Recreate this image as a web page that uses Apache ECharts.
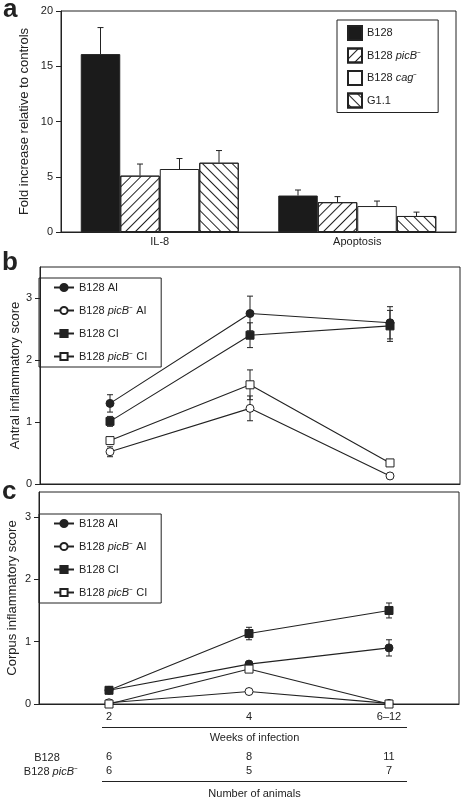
<!DOCTYPE html>
<html><head><meta charset="utf-8">
<script src="https://cdn.jsdelivr.net/npm/echarts@6/dist/echarts.min.js"></script>
<style>html,body{margin:0;padding:0;background:#fff}#c{width:466px;height:802px}</style>
</head><body><div id="c"></div>
<script>
// ---------- data ----------
const barCategories = ['IL-8', 'Apoptosis'];
const barNames = ['B128', 'B128 picB⁻', 'B128 cag⁻', 'G1.1'];
const barB128 = [16.1, 3.3];
const barB128Err = [2.4, 0.5];
const barPicB = [5.1, 2.7];
const barPicBErr = [1.05, 0.5];
const barCag = [5.7, 2.35];
const barCagErr = [0.95, 0.45];
const barG11 = [6.27, 1.45];
const barG11Err = [1.1, 0.35];
const barTicks = [0, 5, 10, 15, 20];

const weeks = ['2', '4', '6–12'];
const lineNames = ['B128 AI', 'B128 picB⁻ AI', 'B128 CI', 'B128 picB⁻ CI'];
// panel b: antral
const antralB128AI = [1.30, 2.75, 2.60];
const antralB128AIErr = [0.14, 0.28, 0.26];
const antralPicBAI = [0.52, 1.22, 0.13];
const antralPicBAIErr = [0.08, 0.20, 0.03];
const antralB128CI = [1.01, 2.40, 2.55];
const antralB128CIErr = [0.08, 0.20, 0.25];
const antralPicBCI = [0.70, 1.60, 0.34];
const antralPicBCIErr = [0.05, 0.24, 0.04];
// panel c: corpus
const corpusB128AI = [0.22, 0.64, 0.90];
const corpusB128AIErr = [0.02, 0.04, 0.13];
const corpusPicBAI = [0.02, 0.20, 0.01];
const corpusPicBAIErr = [0.01, 0.04, 0.01];
const corpusB128CI = [0.22, 1.13, 1.50];
const corpusB128CIErr = [0.03, 0.10, 0.12];
const corpusPicBCI = [0.00, 0.56, 0.00];
const corpusPicBCIErr = [0.00, 0.05, 0.00];
// number of animals
const animalsB128 = [6, 8, 11];
const animalsPicB = [6, 5, 7];

// ---------- styling ----------
const FONT = 'Liberation Sans, Arial, Helvetica, sans-serif';
const INK = '#222';
const BAR_GAP = 0.2;

function richName(name) {
  return name.replace(/(picB|cag)/, '{i|$1}').replace(/^([^{]*)\{/, '{n|$1}{').replace(/\}([^{}]+)$/, '}{n|$1}');
}
const richStyles = {
  n: { fontFamily: FONT, fontSize: 11, color: INK },
  i: { fontFamily: FONT, fontSize: 11, color: INK, fontStyle: 'italic' }
};

const barValues = [barB128, barPicB, barCag, barG11];
const barErrs = [barB128Err, barPicBErr, barCagErr, barG11Err];
const barStyles = [
  { color: '#1b1b1b', borderColor: INK, borderWidth: 1 },
  { color: '#fff', borderColor: INK, borderWidth: 1,
    decal: { symbol: 'rect', symbolSize: 1, dashArrayX: [1, 0], dashArrayY: [1, 5.5], rotation: -Math.PI / 4, color: INK, backgroundColor: 'rgba(0,0,0,0)' } },
  { color: '#fff', borderColor: INK, borderWidth: 1 },
  { color: '#fff', borderColor: INK, borderWidth: 1,
    decal: { symbol: 'rect', symbolSize: 1, dashArrayX: [1, 0], dashArrayY: [1, 5.5], rotation: Math.PI / 4, color: INK, backgroundColor: 'rgba(0,0,0,0)' } }
];

function barErrRender(k) {
  return function (params, api) {
    const ci = api.value(0), v = api.value(1), e = api.value(2);
    const band = api.size([1, 0])[0];
    const group = band * (1 - BAR_GAP);
    const bw = group / 4;
    const off = -group / 2 + bw * (k + 0.5);
    const p0 = api.coord([ci, v]);
    const p1 = api.coord([ci, v + e]);
    const x = p0[0] + off;
    const st = { stroke: INK, lineWidth: 1 };
    return { type: 'group', children: [
      { type: 'line', shape: { x1: x, y1: p0[1], x2: x, y2: p1[1] }, style: st },
      { type: 'line', shape: { x1: x - 3, y1: p1[1], x2: x + 3, y2: p1[1] }, style: st }
    ] };
  };
}
function lineErrRender(params, api) {
  const ci = api.value(0), v = api.value(1), e = api.value(2);
  const a = api.coord([ci, v + e]);
  const b = api.coord([ci, v - e]);
  const st = { stroke: INK, lineWidth: 1 };
  return { type: 'group', children: [
    { type: 'line', shape: { x1: a[0], y1: a[1], x2: b[0], y2: b[1] }, style: st },
    { type: 'line', shape: { x1: a[0] - 3, y1: a[1], x2: a[0] + 3, y2: a[1] }, style: st },
    { type: 'line', shape: { x1: b[0] - 3, y1: b[1], x2: b[0] + 3, y2: b[1] }, style: st }
  ] };
}

const markerStyles = [
  { symbol: 'circle', itemStyle: { color: INK, borderColor: INK, borderWidth: 1 } },
  { symbol: 'circle', itemStyle: { color: '#fff', borderColor: INK, borderWidth: 1 } },
  { symbol: 'rect', itemStyle: { color: INK, borderColor: INK, borderWidth: 1 } },
  { symbol: 'rect', itemStyle: { color: '#fff', borderColor: INK, borderWidth: 1 } }
];
const antral = [antralB128AI, antralPicBAI, antralB128CI, antralPicBCI];
const antralErr = [antralB128AIErr, antralPicBAIErr, antralB128CIErr, antralPicBCIErr];
const corpus = [corpusB128AI, corpusPicBAI, corpusB128CI, corpusPicBCI];
const corpusErr = [corpusB128AIErr, corpusPicBAIErr, corpusB128CIErr, corpusPicBCIErr];

const series = [];
barNames.forEach((name, k) => {
  series.push({ type: 'bar', name, xAxisIndex: 0, yAxisIndex: 0, data: barValues[k],
    barGap: '0%', barCategoryGap: (BAR_GAP * 100) + '%', itemStyle: barStyles[k], z: 2,
    emphasis: { disabled: true } });
});
barNames.forEach((name, k) => {
  series.push({ type: 'custom', xAxisIndex: 0, yAxisIndex: 0, z: 3,
    data: barValues[k].map((v, i) => [i, v, barErrs[k][i]]),
    encode: { x: 0, y: 1 }, renderItem: barErrRender(k) });
});
function addLinePanel(idx, vals, errs) {
  lineNames.forEach((name, k) => {
    series.push({ type: 'custom', xAxisIndex: idx, yAxisIndex: idx, z: 1,
      data: vals[k].map((v, i) => [i, v, errs[k][i]]),
      encode: { x: 0, y: 1 }, renderItem: lineErrRender });
    series.push({ type: 'line', name, xAxisIndex: idx, yAxisIndex: idx, data: vals[k], z: 4,
      symbol: markerStyles[k].symbol, symbolSize: 8, showAllSymbol: true,
      lineStyle: { color: INK, width: 1.1 }, itemStyle: markerStyles[k].itemStyle,
      emphasis: { disabled: true }, animation: false });
  });
}
addLinePanel(1, antral, antralErr);
addLinePanel(2, corpus, corpusErr);

const axisLabel = { color: INK, fontFamily: FONT, fontSize: 11 };
const axisLine = { show: true, lineStyle: { color: INK, width: 1 } };
const nameStyle = { color: INK, fontFamily: FONT, fontSize: 13 };
const lineLegend = (top) => ({ data: lineNames, orient: 'vertical', left: 39, top, padding: [4, 14, 5, 14], itemGap: 12,
      itemWidth: 20, itemHeight: 9, borderColor: INK, borderWidth: 1, borderRadius: 0,
      selectedMode: false, formatter: richName, textStyle: { rich: richStyles, fontSize: 11, color: INK } });
const gridBase = { show: true, borderColor: INK, borderWidth: 1, containLabel: false, outerBoundsMode: 'none' };

const option = {
  animation: false,
  backgroundColor: '#fff',
  textStyle: { fontFamily: FONT },
  grid: [
    Object.assign({ left: 61, top: 11, width: 395, height: 221 }, gridBase),
    Object.assign({ left: 40, top: 267, width: 420, height: 217 }, gridBase),
    Object.assign({ left: 39, top: 492, width: 420, height: 212 }, gridBase)
  ],
  xAxis: [
    { type: 'category', gridIndex: 0, data: barCategories, axisLine, axisTick: { show: false },
      axisLabel: Object.assign({ margin: 4 }, axisLabel) },
    { type: 'category', gridIndex: 1, data: weeks, axisLine, axisTick: { show: false }, axisLabel: { show: false } },
    { type: 'category', gridIndex: 2, data: weeks, axisLine, axisTick: { show: false },
      axisLabel: Object.assign({ margin: 7 }, axisLabel) }
  ],
  yAxis: [
    { type: 'value', gridIndex: 0, min: barTicks[0], max: barTicks[barTicks.length - 1], interval: 5,
      axisLine, axisTick: { show: true, length: 5, lineStyle: { color: INK } }, splitLine: { show: false },
      axisLabel: Object.assign({ margin: 8 }, axisLabel), nameMoveOverlap: false,
      name: 'Fold increase relative to controls', nameLocation: 'middle', nameGap: 30, nameTextStyle: nameStyle },
    { type: 'value', gridIndex: 1, min: 0, max: 3.5, interval: 1,
      axisLine, axisTick: { show: true, length: 5, lineStyle: { color: INK } }, splitLine: { show: false },
      axisLabel: Object.assign({ margin: 8, showMaxLabel: false }, axisLabel), nameMoveOverlap: false,
      name: 'Antral inflammatory score', nameLocation: 'middle', nameGap: 18, nameTextStyle: nameStyle },
    { type: 'value', gridIndex: 2, min: 0, max: 3.4, interval: 1,
      axisLine, axisTick: { show: true, length: 5, lineStyle: { color: INK } }, splitLine: { show: false },
      axisLabel: Object.assign({ margin: 8, showMaxLabel: false }, axisLabel), nameMoveOverlap: false,
      name: 'Corpus inflammatory score', nameLocation: 'middle', nameGap: 20, nameTextStyle: nameStyle }
  ],
  legend: [
    { data: barNames, orient: 'vertical', left: 337, top: 20, padding: [5, 17, 4, 10], itemGap: 6.5,
      itemWidth: 14, itemHeight: 14, icon: 'rect', borderColor: INK, borderWidth: 1, borderRadius: 0,
      selectedMode: false, formatter: richName, textStyle: { rich: richStyles, fontSize: 11, color: INK } },
    lineLegend(278),
    lineLegend(514)
  ],
  series
};

const chart = echarts.init(document.getElementById('c'), null, { renderer: 'canvas' });
chart.setOption(option);

// ---------- annotations positioned through the axis scale ----------
const g = [];
const labelStyle = (t, size, bold) => ({ text: t, fontFamily: FONT, fontSize: size, fontWeight: bold ? 'bold' : 'normal', fill: INK });
g.push({ type: 'text', left: 3, top: -3, style: labelStyle('a', 26, true) });
g.push({ type: 'text', left: 2, top: 250, style: labelStyle('b', 26, true) });
g.push({ type: 'text', left: 2, top: 479, style: labelStyle('c', 26, true) });

const xs = weeks.map((w, i) => chart.convertToPixel({ xAxisIndex: 2 }, i));
const x0 = xs[0] - 7, x1 = xs[2] + 18;
g.push({ type: 'line', shape: { x1: x0, y1: 727.5, x2: x1, y2: 727.5 }, style: { stroke: INK, lineWidth: 1.2 } });
g.push({ type: 'line', shape: { x1: x0, y1: 781.5, x2: x1, y2: 781.5 }, style: { stroke: INK, lineWidth: 1.2 } });
const midX = (x0 + x1) / 2;
g.push({ type: 'text', x: midX, y: 738, style: { text: 'Weeks of infection', fontFamily: FONT, fontSize: 11, fill: INK, align: 'center', verticalAlign: 'middle' } });
g.push({ type: 'text', x: midX, y: 794, style: { text: 'Number of animals', fontFamily: FONT, fontSize: 11, fill: INK, align: 'center', verticalAlign: 'middle' } });
g.push({ type: 'text', x: 47, y: 758, style: { text: 'B128', fontFamily: FONT, fontSize: 11, fill: INK, align: 'center', verticalAlign: 'middle' } });
g.push({ type: 'text', x: 78, y: 772, style: { text: '{n|B128 }{i|picB}{n|⁻}', rich: richStyles, fontFamily: FONT, fontSize: 11, fill: INK, align: 'right', verticalAlign: 'middle' } });
animalsB128.forEach((n, i) => g.push({ type: 'text', x: xs[i], y: 757, style: { text: String(n), fontFamily: FONT, fontSize: 11, fill: INK, align: 'center', verticalAlign: 'middle' } }));
animalsPicB.forEach((n, i) => g.push({ type: 'text', x: xs[i], y: 771, style: { text: String(n), fontFamily: FONT, fontSize: 11, fill: INK, align: 'center', verticalAlign: 'middle' } }));
chart.setOption({ graphic: g });
</script>
</body></html>
